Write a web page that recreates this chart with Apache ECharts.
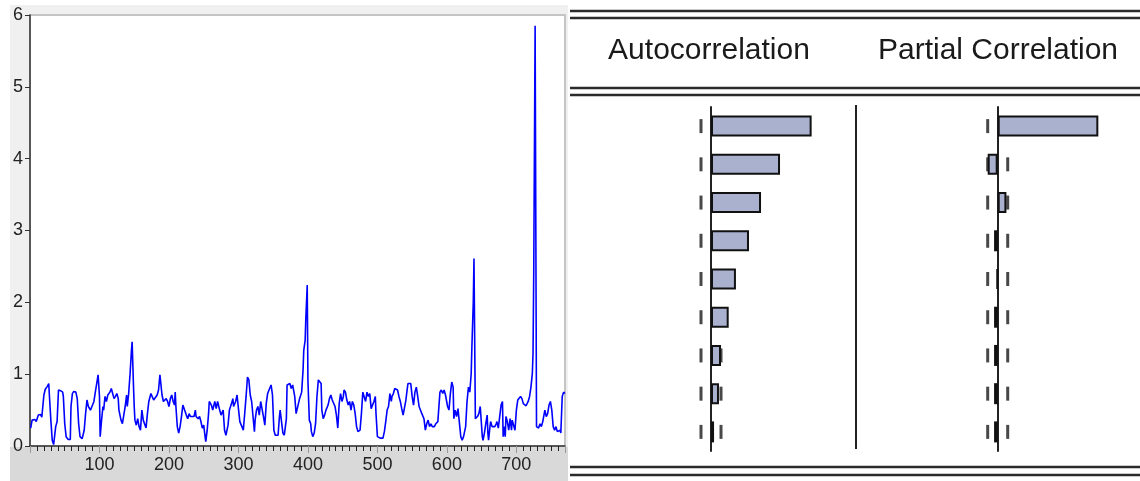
<!DOCTYPE html>
<html>
<head>
<meta charset="utf-8">
<script src="https://cdn.jsdelivr.net/npm/echarts@6/dist/echarts.min.js"></script>
<style>
  html, body { margin: 0; padding: 0; background: #ffffff; }
  #chart { width: 1140px; height: 481px; }
</style>
</head>
<body>
<div id="chart"></div>
<script>
// Observation index and value of the series (turning points of the trace)
const obs = [
  1,3,7,9,12,15,17,20,22,25,27,28,30,32,34,36,37,39,41,44,47,48,50,52,55,58,59,61,63,66,68,70,72,75,78,80,82,84,87,90,92,94,96,98,
  100,101,103,105,106,108,110,112,115,117,119,121,123,125,127,128,131,133,135,137,139,140,142,144,146,147,149,150,151,153,155,157,159,
  161,163,165,167,169,171,174,175,178,180,183,185,187,190,192,194,196,198,200,202,204,206,208,209,210,212,214,216,218,220,222,225,227,
  229,231,233,236,238,239,242,244,246,248,250,252,253,255,257,258,261,263,266,268,270,273,275,278,280,282,285,287,290,292,293,296,298,
  300,302,305,307,309,311,313,315,317,319,321,323,324,326,328,330,332,334,336,338,340,342,344,346,347,349,351,353,355,357,359,360,362,
  364,366,369,370,372,374,376,378,381,383,385,388,389,391,393,394,396,397,399,400,402,404,405,407,409,411,413,415,417,419,420,422,424,
  426,428,429,431,433,435,437,439,441,443,445,447,449,451,452,454,456,458,460,462,464,466,468,470,472,474,475,477,479,481,483,485,487,
  489,491,493,495,497,498,500,502,504,506,508,510,512,514,516,518,520,521,523,525,527,529,531,533,535,537,539,541,543,544,546,548,550,
  552,554,556,558,560,562,564,566,567,569,571,573,575,577,579,582,584,587,588,590,592,594,596,598,600,601,603,605,607,609,610,612,614,
  616,618,620,622,624,625,627,629,631,633,635,636,638,639,641,642,644,646,648,649,651,652,654,656,658,659,660,662,663,665,667,669,671,
  672,674,676,678,680,681,682,684,685,687,689,691,693,694,696,698,700,702,704,706,708,710,712,714,716,717,719,721,723,724,725,727,729,
  731,732,734,736,738,740,741,743,745,747,749,751,753,755,757,759,761,763,764,766,768,770
];
const values = [
  0.25,0.36,0.37,0.34,0.43,0.44,0.40,0.71,0.79,0.83,0.87,0.69,0.36,0.08,0.02,0.04,0.27,0.34,0.78,0.77,0.75,0.69,0.31,0.13,0.09,0.09,0.55,0.73,0.76,0.75,0.66,0.31,0.13,0.10,0.22,0.45,0.64,0.55,0.50,0.57,0.62,0.75,0.87,0.99,
  0.69,0.13,0.36,0.55,0.50,0.69,0.62,0.71,0.75,0.80,0.80,0.66,0.69,0.73,0.66,0.50,0.36,0.31,0.29,0.55,0.71,0.55,0.73,1.00,1.33,1.45,0.82,0.55,0.36,0.29,0.38,0.27,0.22,
  0.50,0.36,0.38,0.25,0.45,0.62,0.73,0.75,0.64,0.64,0.71,0.78,0.99,0.71,0.62,0.62,0.66,0.62,0.55,0.66,0.71,0.62,0.57,0.75,0.55,0.27,0.18,0.27,0.41,0.57,0.55,0.43,0.38,
  0.45,0.41,0.43,0.41,0.50,0.41,0.38,0.41,0.34,0.25,0.29,0.13,0.06,0.22,0.45,0.62,0.57,0.50,0.62,0.52,0.62,0.50,0.43,0.50,0.22,0.15,0.29,0.50,0.59,0.66,0.55,0.62,0.71,
  0.52,0.34,0.27,0.22,0.45,0.69,0.96,0.92,0.71,0.62,0.41,0.20,0.36,0.50,0.55,0.43,0.62,0.64,0.41,0.29,0.59,0.73,0.78,0.80,0.85,0.71,0.22,0.15,0.14,0.15,0.41,0.50,0.34,
  0.18,0.15,0.38,0.85,0.87,0.87,0.80,0.85,0.69,0.45,0.43,0.66,0.69,0.75,1.06,1.33,1.47,1.78,2.24,0.92,0.36,0.31,0.20,0.13,0.18,0.31,0.69,0.92,0.92,0.87,0.50,0.38,0.43,
  0.50,0.48,0.57,0.66,0.71,0.64,0.62,0.55,0.43,0.25,0.59,0.73,0.62,0.69,0.78,0.75,0.64,0.57,0.62,0.50,0.62,0.57,0.45,0.27,0.20,0.18,0.22,0.45,0.75,0.73,0.62,0.75,0.69,
  0.73,0.52,0.50,0.62,0.69,0.45,0.13,0.11,0.11,0.09,0.11,0.20,0.34,0.50,0.55,0.73,0.62,0.69,0.73,0.80,0.82,0.78,0.69,0.62,0.52,0.43,0.41,0.64,0.80,0.87,0.89,0.87,0.69,
  0.57,0.75,0.82,0.69,0.55,0.55,0.45,0.43,0.38,0.22,0.31,0.36,0.27,0.31,0.27,0.27,0.31,0.34,0.36,0.75,0.78,0.73,0.78,0.71,0.73,0.55,0.50,0.73,0.89,0.82,0.38,0.50,0.41,
  0.52,0.50,0.13,0.08,0.13,0.15,0.27,0.62,0.82,0.75,1.01,1.38,2.00,2.61,0.38,0.38,0.41,0.45,0.55,0.57,0.13,0.08,0.18,0.31,0.43,0.18,0.08,0.27,0.34,0.27,0.29,0.27,0.31,
  0.34,0.25,0.41,0.57,0.62,0.13,0.27,0.13,0.41,0.34,0.22,0.38,0.22,0.36,0.29,0.22,0.50,0.64,0.66,0.69,0.66,0.59,0.57,0.56,0.57,0.62,0.69,0.82,1.01,1.29,2.40,5.85,0.27,
  0.29,0.25,0.31,0.27,0.34,0.36,0.50,0.41,0.45,0.57,0.62,0.50,0.27,0.22,0.27,0.20,0.18,0.22,0.18,0.69,0.75,0.73
];
const yTicks = [0, 1, 2, 3, 4, 5, 6];

// Correlogram: lags, autocorrelations, partial autocorrelations, ±2 s.e. band
const lags = ['1', '2', '3', '4', '5', '6', '7', '8', '9'];
const acf  = [0.694, 0.476, 0.345, 0.262, 0.172, 0.122, 0.069, 0.055, 0.021];
const pacf = [0.694, -0.069, 0.060, -0.025, -0.006, -0.025, -0.025, -0.025, -0.025];
const band = 0.069;
const headers = ['Autocorrelation', 'Partial Correlation'];

const FONT = "'Liberation Sans', Arial, sans-serif";
const lineData = obs.map((t, i) => [t, values[i]]);
const bandPts = lags.flatMap(l => [[-band, l], [band, l]]);

const chart = echarts.init(document.getElementById('chart'), null, { renderer: 'canvas' });

function hline(y) {
  return { type: 'line', z: 5, shape: { x1: 570, y1: y, x2: 1140, y2: y },
           style: { stroke: '#2b2b2b', lineWidth: 2.5 } };
}

chart.setOption({
  animation: false,
  backgroundColor: '#ffffff',
  graphic: [
    // frame around the time-series plot
    { type: 'rect', z: -10, shape: { x: 10, y: 5, width: 558, height: 476 }, style: { fill: '#f0f0f0' } },
    { type: 'rect', z: -9, shape: { x: 10, y: 447, width: 558, height: 34 }, style: { fill: '#d9d9d9' } },
    // correlogram rules
    hline(11), hline(18), hline(88), hline(95), hline(467), hline(475),
    { type: 'line', z: 5, shape: { x1: 856, y1: 105, x2: 856, y2: 449 },
      style: { stroke: '#222', lineWidth: 2 } },
    { type: 'text', z: 5, x: 709, y: 51,
      style: { text: headers[0], font: '30px ' + FONT, fill: '#1a1a1a', align: 'center', verticalAlign: 'middle' } },
    { type: 'text', z: 5, x: 998, y: 51,
      style: { text: headers[1], font: '30px ' + FONT, fill: '#1a1a1a', align: 'center', verticalAlign: 'middle' } }
  ],
  grid: [
    { left: 30, top: 15, width: 535, height: 431, show: true, backgroundColor: '#ffffff',
      borderColor: '#c4c4c4', borderWidth: 2 },
    { left: 638.5, top: 107, width: 203, height: 344 },
    { left: 925.2, top: 107, width: 203, height: 344 }
  ],
  xAxis: [
    { gridIndex: 0, type: 'value', min: 0, max: 770, interval: 100,
      axisLine: { lineStyle: { color: '#333', width: 1.5 } },
      axisTick: { show: true, length: 7, lineStyle: { color: '#999' } },
      minorTick: { show: true, splitNumber: 10, length: 5, lineStyle: { color: '#222' } },
      splitLine: { show: false },
      axisLabel: { showMinLabel: false, showMaxLabel: false, color: '#222', fontSize: 18,
                   fontFamily: FONT, margin: 10 } },
    { gridIndex: 1, type: 'value', min: -0.5, max: 0.9, show: false, splitLine: { show: false } },
    { gridIndex: 2, type: 'value', min: -0.5, max: 0.9, show: false, splitLine: { show: false } }
  ],
  yAxis: [
    { gridIndex: 0, type: 'value', min: 0, max: 6, interval: 1,
      axisLine: { show: true, lineStyle: { color: '#333', width: 1.5 } },
      axisTick: { show: true, length: 5, lineStyle: { color: '#333' } },
      splitLine: { show: false },
      axisLabel: { color: '#222', fontSize: 18, fontFamily: FONT, margin: 7,
                   formatter: v => (yTicks.includes(v) ? String(v) : '') } },
    { gridIndex: 1, type: 'category', data: lags, inverse: true,
      axisLine: { show: true, onZero: true, lineStyle: { color: '#222', width: 2 } },
      axisTick: { show: false }, axisLabel: { show: false }, splitLine: { show: false } },
    { gridIndex: 2, type: 'category', data: lags, inverse: true,
      axisLine: { show: true, onZero: true, lineStyle: { color: '#222', width: 2 } },
      axisTick: { show: false }, axisLabel: { show: false }, splitLine: { show: false } }
  ],
  series: [
    { type: 'line', xAxisIndex: 0, yAxisIndex: 0, data: lineData, showSymbol: false,
      lineStyle: { color: '#0000ff', width: 1.6 }, z: 3 },
    { type: 'scatter', xAxisIndex: 1, yAxisIndex: 1, data: bandPts, symbol: 'rect',
      symbolSize: [3, 14], itemStyle: { color: '#1a1a1a' }, z: 1 },
    { type: 'bar', xAxisIndex: 1, yAxisIndex: 1, data: acf, barWidth: 21,
      itemStyle: { color: '#a9b1cf', borderColor: '#111', borderWidth: 2 }, z: 2 },
    { type: 'scatter', xAxisIndex: 2, yAxisIndex: 2, data: bandPts, symbol: 'rect',
      symbolSize: [3, 14], itemStyle: { color: '#1a1a1a' }, z: 1 },
    { type: 'bar', xAxisIndex: 2, yAxisIndex: 2, data: pacf, barWidth: 21,
      itemStyle: { color: '#a9b1cf', borderColor: '#111', borderWidth: 2 }, z: 2 }
  ]
});
</script>
</body>
</html>
